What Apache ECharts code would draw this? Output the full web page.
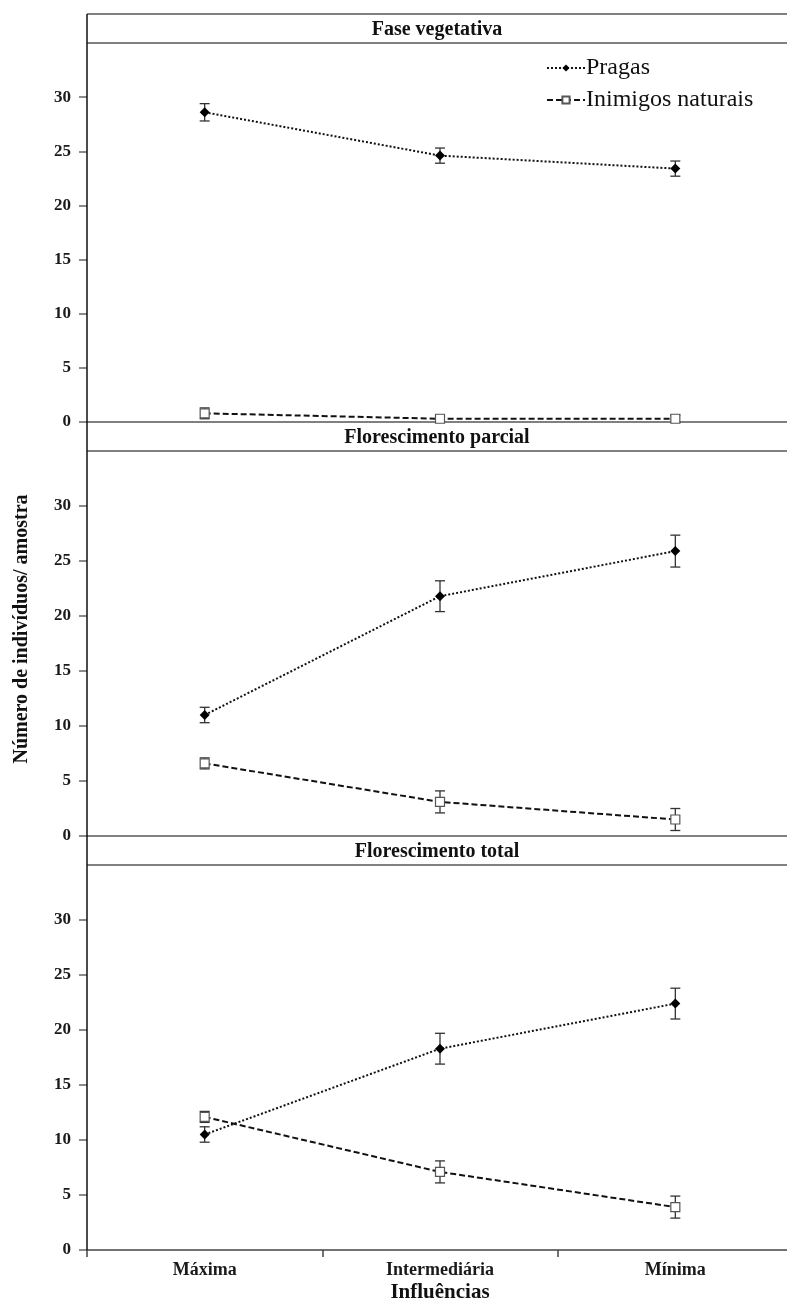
<!DOCTYPE html>
<html><head><meta charset="utf-8">
<script src="https://cdn.jsdelivr.net/npm/echarts@6/dist/echarts.min.js"></script>
<style>html,body{margin:0;padding:0;background:#fff}#c{width:787px;height:1303px}</style>
</head><body><div id="c"></div>
<script>
const categories = ['Máxima', 'Intermediária', 'Mínima'];
const panelTitles = ['Fase vegetativa', 'Florescimento parcial', 'Florescimento total'];
const yTicks = [0, 5, 10, 15, 20, 25, 30];
const seriesNames = ['Pragas', 'Inimigos naturais'];

const pragasVeg = [28.6, 24.6, 23.4];
const pragasVegErr = [0.8, 0.7, 0.7];
const inimigosVeg = [0.8, 0.3, 0.3];
const inimigosVegErr = [0.5, 0.3, 0.3];

const pragasParc = [11.0, 21.8, 25.9];
const pragasParcErr = [0.7, 1.4, 1.45];
const inimigosParc = [6.6, 3.1, 1.5];
const inimigosParcErr = [0.5, 1.0, 1.0];

const pragasTot = [10.5, 18.3, 22.4];
const pragasTotErr = [0.7, 1.4, 1.4];
const inimigosTot = [12.1, 7.1, 3.9];
const inimigosTotErr = [0.5, 1.0, 1.0];

const panels = [
  { p: pragasVeg, pe: pragasVegErr, n: inimigosVeg, ne: inimigosVegErr },
  { p: pragasParc, pe: pragasParcErr, n: inimigosParc, ne: inimigosParcErr },
  { p: pragasTot, pe: pragasTotErr, n: inimigosTot, ne: inimigosTotErr }
];

const FONT = '"Liberation Serif", "Times New Roman", serif';
const LEFT = 87, WIDTH = 706;
const gridTops = [43, 451, 865];
const gridH = [379, 385, 385];
const stripH = 29;

const chart = echarts.init(document.getElementById('c'), null, { renderer: 'canvas' });

const grids = [], xAxes = [], yAxes = [], series = [], titles = [];
panels.forEach((pn, i) => {
  grids.push({ left: LEFT, width: WIDTH, top: gridTops[i], height: gridH[i], containLabel: false, outerBoundsMode: 'none' });
  const last = i === 2;
  xAxes.push({
    type: 'category', gridIndex: i, data: categories, boundaryGap: true,
    axisLine: { show: true, lineStyle: { color: last ? '#444' : '#808080', width: last ? 1.5 : 2 } },
    axisTick: { show: last, length: 7, alignWithLabel: false, lineStyle: { color: '#444', width: 1.5 } },
    axisLabel: { show: last, fontFamily: FONT, fontWeight: 'bold', fontSize: 18, color: '#1a1a1a', margin: 11 },
    name: last ? 'Influências' : '', nameLocation: 'middle', nameGap: 32,
    nameTextStyle: { fontFamily: FONT, fontWeight: 'bold', fontSize: 21, color: '#111' },
    splitLine: { show: false }
  });
  yAxes.push({
    type: 'value', gridIndex: i, min: 0, max: 35, interval: 5,
    axisLine: { show: false },
    axisTick: { show: true, inside: false, length: 8, customValues: yTicks, lineStyle: { color: '#666', width: 1.5 } },
    axisLabel: { customValues: yTicks, fontFamily: FONT, fontWeight: 'bold', fontSize: 17, color: '#1a1a1a', margin: 16 },
    splitLine: { show: false }
  });
  const errData = (vals, errs) => vals.map((v, k) => [k, v - errs[k], v + errs[k]]);
  const errSeries = (vals, errs) => ({
    type: 'custom', xAxisIndex: i, yAxisIndex: i, z: 2, silent: true,
    data: errData(vals, errs),
    renderItem: (params, api) => {
      const x = api.value(0);
      const lo = api.coord([x, api.value(1)]);
      const hi = api.coord([x, api.value(2)]);
      const cap = 5;
      const st = { stroke: '#333', lineWidth: 1.3 };
      return { type: 'group', children: [
        { type: 'line', shape: { x1: lo[0], y1: lo[1], x2: hi[0], y2: hi[1] }, style: st },
        { type: 'line', shape: { x1: lo[0] - cap, y1: lo[1], x2: lo[0] + cap, y2: lo[1] }, style: st },
        { type: 'line', shape: { x1: hi[0] - cap, y1: hi[1], x2: hi[0] + cap, y2: hi[1] }, style: st }
      ]};
    }
  });
  series.push(errSeries(pn.p, pn.pe));
  series.push(errSeries(pn.n, pn.ne));
  series.push({
    name: seriesNames[0], type: 'line', xAxisIndex: i, yAxisIndex: i, data: pn.p, z: 5,
    symbol: 'diamond', symbolSize: 10, showAllSymbol: true,
    lineStyle: { color: '#111', width: 2, type: [2, 2] },
    itemStyle: { color: '#000', borderWidth: 0 }, animation: false
  });
  series.push({
    name: seriesNames[1], type: 'line', xAxisIndex: i, yAxisIndex: i, data: pn.n, z: 5,
    symbol: 'rect', symbolSize: 9, showAllSymbol: true,
    lineStyle: { color: '#111', width: 2, type: [6, 3] },
    itemStyle: { color: '#fff', borderColor: '#555', borderWidth: 1.2 }, animation: false
  });
  titles.push({
    text: panelTitles[i], left: 437, top: gridTops[i] - 23, textAlign: 'center', padding: 0,
    textStyle: { fontFamily: FONT, fontWeight: 'bold', fontSize: 20, color: '#111' }
  });
});

const stripLines = [];
gridTops.forEach(t => {
  stripLines.push({ type: 'line', shape: { x1: LEFT, y1: t, x2: 787, y2: t }, style: { stroke: '#808080', lineWidth: 2 } });
});
stripLines.push({ type: 'line', shape: { x1: LEFT, y1: gridTops[0] - stripH, x2: 787, y2: gridTops[0] - stripH }, style: { stroke: '#808080', lineWidth: 2 } });
stripLines.push({ type: 'line', shape: { x1: LEFT, y1: gridTops[0] - stripH, x2: LEFT, y2: gridTops[2] + gridH[2] }, style: { stroke: '#111', lineWidth: 1.5 }, z: 10 });
stripLines.push({
  type: 'text', x: 22, y: 629, rotation: Math.PI / 2,
  style: { text: 'Número de indivíduos/ amostra', font: 'bold 20px ' + FONT, fill: '#111', textAlign: 'center', textVerticalAlign: 'middle' }
});

chart.setOption({
  animation: false,
  title: titles,
  grid: grids, xAxis: xAxes, yAxis: yAxes, series: series,
  legend: {
    data: seriesNames, orient: 'vertical', left: 541, top: 51, itemGap: 8,
    itemWidth: 38, itemHeight: 9,
    textStyle: { fontFamily: FONT, fontSize: 24, color: '#111', padding: [0, 0, 0, -4] }
  },
  graphic: stripLines
});
</script></body></html>
